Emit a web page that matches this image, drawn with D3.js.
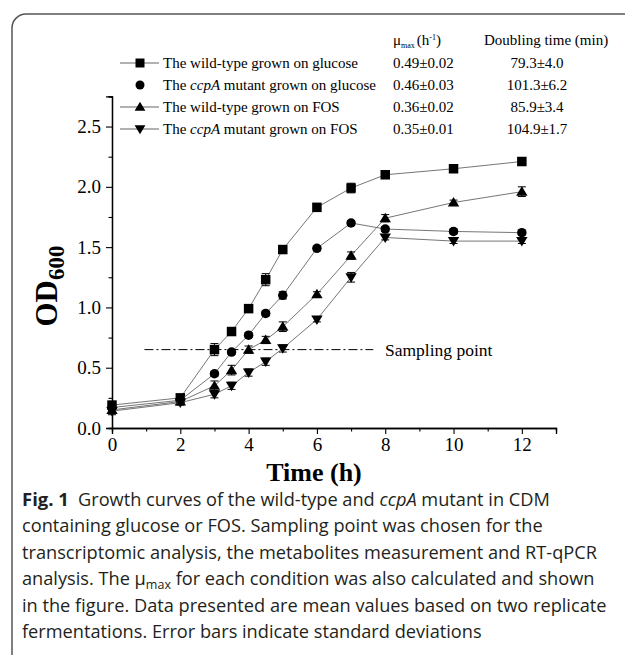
<!DOCTYPE html>
<html>
<head>
<meta charset="utf-8">
<script src="https://cdnjs.cloudflare.com/ajax/libs/d3/7.8.5/d3.min.js"></script>
<style>
  body { margin: 0; background: #fff; }
  svg { display: block; }
</style>
</head>
<body>
<div id="chart"></div>
<script>
// sampling times (h)
var times = [0, 2, 3, 3.5, 4, 4.5, 5, 6, 7, 8, 10, 12];

// OD600 means
var wtGlucose = [0.19, 0.25, 0.65, 0.80, 0.99, 1.23, 1.48, 1.83, 1.99, 2.10, 2.15, 2.21];
var ccpaGlucose = [0.17, 0.23, 0.45, 0.63, 0.77, 0.95, 1.10, 1.49, 1.70, 1.65, 1.63, 1.62];
var wtFos = [0.15, 0.22, 0.35, 0.48, 0.65, 0.73, 0.84, 1.11, 1.43, 1.74, 1.87, 1.96];
var ccpaFos = [0.14, 0.21, 0.28, 0.35, 0.46, 0.55, 0.66, 0.90, 1.25, 1.58, 1.55, 1.55];

// standard deviations
var wtGlucoseErr = [0.03, 0.02, 0.05, 0.03, 0.02, 0.05, 0.02, 0.02, 0.04, 0.02, 0.02, 0.02];
var ccpaGlucoseErr = [0.03, 0.02, 0.02, 0.02, 0.02, 0.02, 0.03, 0.02, 0.02, 0.02, 0.02, 0.02];
var wtFosErr = [0.03, 0.02, 0.04, 0.04, 0.03, 0.03, 0.04, 0.02, 0.03, 0.03, 0.02, 0.04];
var ccpaFosErr = [0.03, 0.02, 0.03, 0.03, 0.03, 0.03, 0.03, 0.02, 0.04, 0.02, 0.02, 0.02];

var seriesNames = ['wt-glucose', 'ccpa-glucose', 'wt-fos', 'ccpa-fos'];
var muMax = ['0.49\u00b10.02', '0.46\u00b10.03', '0.36\u00b10.02', '0.35\u00b10.01'];
var doubling = ['79.3\u00b14.0', '101.3\u00b16.2', '85.9\u00b13.4', '104.9\u00b11.7'];

var xMajor = [0, 2, 4, 6, 8, 10, 12];
var xMinor = [1, 3, 5, 7, 9, 11, 13];
var yMajor = [0, 0.5, 1.0, 1.5, 2.0, 2.5];
var yMinor = [0.25, 0.75, 1.25, 1.75, 2.25, 2.75];

var samplingOD = 0.65;
var samplingFrom = 0.95, samplingTo = 7.65;

var width = 625, height = 655;
var serif = '"Liberation Serif", "Times New Roman", serif';
var sans = '"Open Sans", "Noto Sans", sans-serif';

var svg = d3.select('#chart').append('svg')
    .attr('width', width)
    .attr('height', height);

// figure frame, only the top-left corner is visible
svg.append('rect')
    .attr('x', 12).attr('y', 14)
    .attr('width', 700).attr('height', 700)
    .attr('rx', 14)
    .attr('fill', 'none')
    .attr('stroke', '#555')
    .attr('stroke-width', 1.5);

var x = d3.scaleLinear().domain([0, 13]).range([112, 556]);
var y = d3.scaleLinear().domain([0, 2.75]).range([428, 96.4]);

// axes
var xAxis = svg.append('g').attr('transform', 'translate(0,428)')
    .call(d3.axisBottom(x).tickValues(xMajor).tickSize(6).tickPadding(4).tickFormat(d3.format('d')));
svg.append('g').attr('transform', 'translate(0,428)')
    .call(d3.axisBottom(x).tickValues(xMinor).tickSize(3.5).tickFormat(''));
svg.append('g').attr('transform', 'translate(112,0)')
    .call(d3.axisLeft(y).tickValues(yMajor).tickSize(6).tickPadding(5).tickFormat(d3.format('.1f')));
svg.append('g').attr('transform', 'translate(112,0)')
    .call(d3.axisLeft(y).tickValues(yMinor).tickSize(3.5).tickFormat(''));

svg.selectAll('.domain').attr('stroke', '#000').attr('stroke-width', 1.3);
svg.selectAll('.tick line').attr('stroke', '#000').attr('stroke-width', 1.1);
svg.selectAll('.tick text')
    .attr('font-family', serif)
    .attr('font-size', 19)
    .attr('fill', '#000');
xAxis.selectAll('.tick text').attr('dy', '0.7em');

// axis titles
svg.append('text')
    .attr('x', 314).attr('y', 481)
    .attr('text-anchor', 'middle')
    .attr('font-family', serif)
    .attr('font-weight', 'bold')
    .attr('font-size', 26)
    .text('Time (h)');

var yTitle = svg.append('text')
    .attr('transform', 'translate(57,286) rotate(-90)')
    .attr('text-anchor', 'middle')
    .attr('font-family', serif)
    .attr('font-weight', 'bold')
    .attr('font-size', 31);
yTitle.append('tspan').text('OD');
yTitle.append('tspan').attr('font-size', 23).attr('dy', 7).text('600');

// sampling point
svg.append('line')
    .attr('x1', x(samplingFrom)).attr('x2', x(samplingTo))
    .attr('y1', y(samplingOD)).attr('y2', y(samplingOD))
    .attr('stroke', '#000')
    .attr('stroke-width', 1)
    .attr('stroke-dasharray', '9,3,2,3');
svg.append('text')
    .attr('x', 385).attr('y', y(samplingOD) + 6)
    .attr('font-family', serif)
    .attr('font-size', 17.5)
    .text('Sampling point');

// marker drawing
function marker(sel, kind, size) {
    if (kind === 'square') {
        sel.append('rect')
            .attr('x', -size / 2).attr('y', -size / 2)
            .attr('width', size).attr('height', size);
    } else if (kind === 'circle') {
        sel.append('circle').attr('r', size / 2);
    } else {
        var h = size * 0.95, w = size * 0.6;
        var pts = kind === 'up'
            ? [[0, -h * 0.6], [w, h * 0.45], [-w, h * 0.45]]
            : [[0, h * 0.6], [w, -h * 0.45], [-w, -h * 0.45]];
        sel.append('path').attr('d', 'M' + pts.join('L') + 'Z');
    }
}

var series = [
    { name: seriesNames[0], values: wtGlucose, err: wtGlucoseErr, kind: 'square' },
    { name: seriesNames[1], values: ccpaGlucose, err: ccpaGlucoseErr, kind: 'circle' },
    { name: seriesNames[2], values: wtFos, err: wtFosErr, kind: 'up' },
    { name: seriesNames[3], values: ccpaFos, err: ccpaFosErr, kind: 'down' }
];

var line = d3.line()
    .x(function (d) { return x(d.t); })
    .y(function (d) { return y(d.v); });

series.forEach(function (s) {
    var pts = times.map(function (t, i) { return { t: t, v: s.values[i], e: s.err[i] }; });

    svg.append('path')
        .datum(pts)
        .attr('d', line)
        .attr('fill', 'none')
        .attr('stroke', '#666')
        .attr('stroke-width', 0.9);

    var g = svg.append('g').attr('class', 'pts ' + s.name);
    var p = g.selectAll('g').data(pts).enter().append('g')
        .attr('transform', function (d) { return 'translate(' + x(d.t) + ',' + y(d.v) + ')'; });

    // error bars
    p.append('path')
        .attr('d', function (d) {
            var e = y(0) - y(d.e);
            return 'M-4,' + (-e) + 'H4M0,' + (-e) + 'V' + e + 'M-4,' + e + 'H4';
        })
        .attr('stroke', '#000')
        .attr('stroke-width', 1)
        .attr('fill', 'none');

    p.each(function () { marker(d3.select(this), s.kind, 9.5); });
    p.selectAll('rect,circle,path:last-child').attr('fill', '#000');
});

// legend and growth table
var legendRows = [
    { label: ['The wild-type grown on glucose'], kind: 'square', line: true },
    { label: ['The ', 'ccpA', ' mutant grown on glucose'], kind: 'circle', line: false },
    { label: ['The wild-type grown on FOS'], kind: 'up', line: true },
    { label: ['The ', 'ccpA', ' mutant grown on FOS'], kind: 'down', line: true }
];
var rowY = [63, 85, 107, 129];

legendRows.forEach(function (r, i) {
    var g = svg.append('g').attr('transform', 'translate(0,' + rowY[i] + ')');
    if (r.line) {
        g.append('line').attr('x1', 120).attr('x2', 159)
            .attr('stroke', '#666').attr('stroke-width', 1.2);
    }
    var m = g.append('g').attr('transform', 'translate(140,0)');
    marker(m, r.kind, 9);
    m.selectAll('*').attr('fill', '#000');

    var t = g.append('text')
        .attr('x', 163).attr('y', 5)
        .attr('font-family', serif)
        .attr('font-size', 15);
    r.label.forEach(function (part) {
        t.append('tspan')
            .attr('font-style', part === 'ccpA' ? 'italic' : null)
            .text(part);
    });

    g.append('text')
        .attr('x', 393).attr('y', 5)
        .attr('font-family', serif).attr('font-size', 15)
        .text(muMax[i]);
    g.append('text')
        .attr('x', 537).attr('y', 5)
        .attr('text-anchor', 'middle')
        .attr('font-family', serif).attr('font-size', 15)
        .text(doubling[i]);
});

var head = svg.append('text')
    .attr('x', 393).attr('y', 45)
    .attr('font-family', serif).attr('font-size', 15);
head.append('tspan').text('\u03bc');
head.append('tspan').attr('font-size', 8).attr('dy', 3).text('max');
head.append('tspan').attr('dy', -3).attr('dx', 2).text('(h');
head.append('tspan').attr('font-size', 8).attr('dy', -5).text('-1');
head.append('tspan').attr('dy', 5).text(')');

svg.append('text')
    .attr('x', 484).attr('y', 45)
    .attr('font-family', serif).attr('font-size', 15)
    .text('Doubling time (min)');

// caption
var captionLines = [
    [['Fig. 1', 'b'], ['\u2002Growth curves of the wild-type and '], ['ccpA', 'i'], [' mutant in CDM']],
    [['containing glucose or FOS. Sampling point was chosen for the']],
    [['transcriptomic analysis, the metabolites measurement and RT-qPCR']],
    [['analysis. The \u03bc'], ['max', 's'], [' for each condition was also calculated and shown', 'u']],
    [['in the figure. Data presented are mean values based on two replicate']],
    [['fermentations. Error bars indicate standard deviations']]
];

var caption = svg.append('g')
    .attr('font-family', sans)
    .attr('font-size', 18.2)
    .attr('fill', '#231f20');
captionLines.forEach(function (parts, i) {
    var t = caption.append('text')
        .attr('x', 22).attr('y', 506 + i * 26.4);
    parts.forEach(function (p) {
        var ts = t.append('tspan').text(p[0]);
        if (p[1] === 'b') ts.attr('font-weight', 'bold').attr('font-size', 18.5);
        if (p[1] === 'i') ts.attr('font-style', 'italic');
        if (p[1] === 's') ts.attr('font-size', 12.5).attr('dy', 4);
        if (p[1] === 'u') ts.attr('dy', -4);
    });
});
</script>
</body>
</html>
